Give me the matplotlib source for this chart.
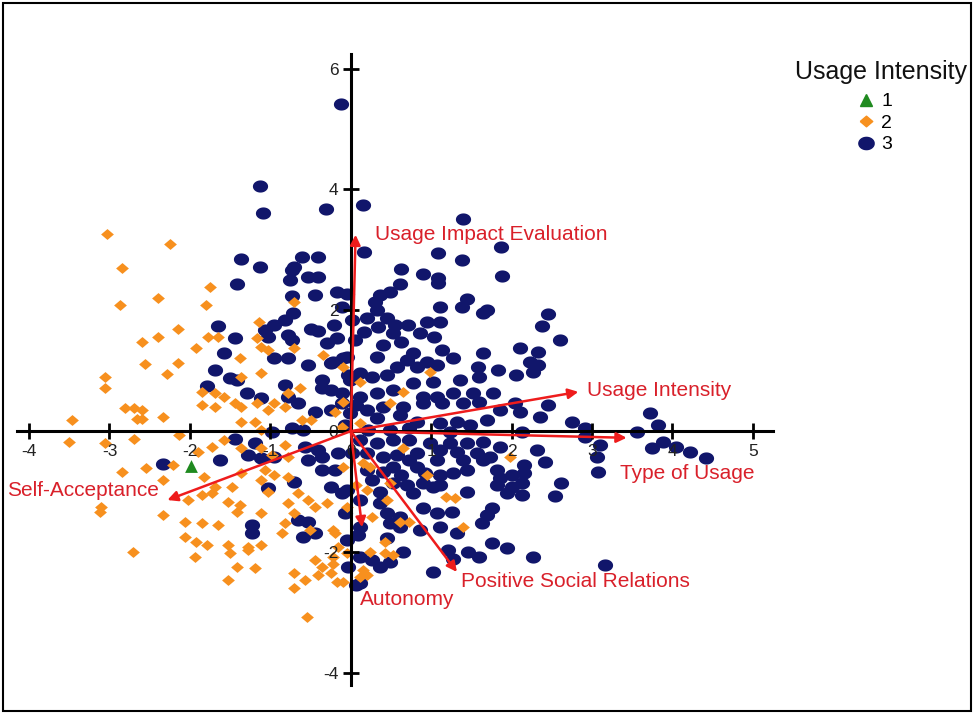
import numpy as np
import matplotlib
matplotlib.use("Agg")
import matplotlib.pyplot as plt
from matplotlib.lines import Line2D
from matplotlib.patches import Rectangle

plt.rcParams['font.family'] = ['Liberation Sans', 'DejaVu Sans']
plt.rcParams['axes.unicode_minus'] = False

# ---------------- data ----------------
group1_points = [(-1.99, -0.58)]

group2_points = [
    (-3.03,3.26),(-2.25,3.10),(-2.84,2.70),(-1.75,2.38),(-2.40,2.20),(-2.87,2.09),(-1.80,2.09),(-0.71,2.14),(-1.14,1.80),(-2.15,1.69),
    (-2.40,1.56),(-2.59,1.47),(-1.92,1.37),(-1.78,1.56),(-1.65,1.56),(-1.16,1.54),(-1.11,1.39),(-1.03,1.34),(-0.70,1.37),(-0.35,1.26),
    (-1.38,1.21),(-2.15,1.13),(-2.56,1.11),
    (-2.28,0.94),(-3.06,0.89),(-3.06,0.71),(-1.11,0.96),(-1.36,0.89),(-1.85,0.65),(-1.69,0.63),(-1.57,0.56),(-1.85,0.43),(-1.69,0.40),
    (-1.44,0.46),(-1.36,0.40),(-2.81,0.38),(-2.69,0.38),(-2.60,0.35),(-2.66,0.20),(-2.59,0.20),(-2.34,0.23),(-3.47,0.18),(-1.16,0.46),
    (-1.03,0.35),(-0.95,0.46),(-0.82,0.40),(-0.78,0.63),(-0.63,0.71),(-1.19,0.15),(-1.36,0.15),(-1.11,0.02),(-0.61,0.18),(-0.49,0.18),
    (-0.20,0.31),(-0.11,0.07),(-3.50,-0.18),(-3.06,-0.20),(-2.69,-0.13),(-2.13,-0.07),(-1.73,-0.26),(-1.57,-0.15),(-1.36,-0.28),(-1.11,-0.28),
    (-0.82,-0.23),(-0.98,-0.40),(-0.78,-0.43),(-1.90,-0.35),(-2.21,-0.56),(-2.54,-0.61),(-2.84,-0.68),(-2.34,-0.81),(-1.82,-0.76),(-1.69,-0.93),
    (-1.73,-1.03),(-2.03,-1.14),(-1.85,-1.06),(-1.48,-0.93),(-1.36,-0.70),(-1.07,-0.65),(-0.95,-0.73),(-1.11,-0.81),(-1.03,-1.01),(-0.78,-0.76),
    (-0.66,-1.03),(-0.53,-1.14),(-0.45,-1.26),(-0.29,-1.19),(-0.78,-1.19),(-0.70,-1.36),(-0.82,-1.52),(-3.10,-1.26),(-3.12,-1.34),(-2.34,-1.39),
    (-2.06,-1.51),(-1.85,-1.52),(-1.65,-1.56),(-1.41,-1.34),(-1.11,-1.36),(-1.53,-1.18),(-1.38,-1.23),(-2.06,-1.75),(-1.92,-1.84),(-1.79,-1.89),
    (-1.53,-1.89),(-1.28,-1.92),(-1.11,-1.89),(-0.86,-1.69),(-0.20,-1.69),(-0.16,-1.92),(-2.71,-2.00),(-1.94,-2.09),(-1.50,-2.02),(-1.28,-1.97),
    (-0.45,-2.14),(-1.41,-2.25),(-1.19,-2.27),(-0.36,-2.25),(-0.70,-2.35),(-0.57,-2.47),(-1.53,-2.47),(-0.41,-2.38),(-0.17,-2.50),(-0.70,-2.60),
    (-0.24,-2.35),
    (0.15,-2.30),(0.20,-2.38),(0.11,-2.42),(-0.22,-2.19),(-0.22,-2.09),(-0.51,-1.64),(-0.22,-1.64),(1.39,-1.59),(0.42,-2.02),(-0.55,-3.08),
    (-0.10,1.06),(0.11,0.81),(0.98,0.98),(0.65,0.65),(0.49,0.46),(-0.10,0.48),(0.11,0.13),(0.65,-0.28),(1.98,-0.43),(0.15,-0.53),
    (0.24,-0.60),(-0.10,-0.60),(0.95,-0.73),(0.49,-0.86),(0.07,-0.89),(0.20,-0.98),(1.19,-1.09),(1.29,-1.11),(0.45,-1.14),(-0.05,-1.26),
    (0.27,-1.42),(0.73,-1.51),(0.61,-1.51),(0.42,-1.84),(0.24,-2.00),(-0.05,-2.02),(0.52,-2.05),(-0.10,-2.50),
]

group3_points = [
    (-0.12,5.41),(-1.13,4.06),(-1.09,3.61),(-0.31,3.68),(0.15,3.74),(1.39,3.51),(0.17,2.96),(1.09,2.95),(1.38,2.83),(1.87,3.05),
    (0.63,2.68),(0.90,2.60),(1.08,2.53),(1.08,2.45),(1.88,2.57),(0.61,2.43),(0.49,2.30),(0.36,2.25),(-0.05,2.27),(0.30,2.14),
    (1.44,2.19),(1.38,2.05),(1.11,2.05),(1.69,2.00),(1.64,1.95),(2.45,1.94),(2.38,1.74),(2.60,1.51),(0.32,2.00),(0.20,1.87),
    (0.45,1.87),(0.17,1.64),(0.34,1.72),(0.55,1.75),(0.71,1.75),(0.95,1.80),(1.11,1.80),(0.86,1.62),(1.04,1.56),(0.52,1.62),
    (0.63,1.47),(0.40,1.42),(0.77,1.29),(1.14,1.34),(1.64,1.29),(2.10,1.37),(2.33,1.31),(2.23,1.14),(0.32,1.23),(0.70,1.18),
    (1.27,1.21),(0.95,1.14),(-0.05,1.23),
    (-1.36,2.85),(-1.13,2.72),(-1.41,2.43),(-0.61,2.88),(-0.41,2.88),(-0.70,2.72),(-0.73,2.67),(-0.76,2.50),(-0.53,2.55),(-0.41,2.55),
    (-0.73,2.24),(-0.44,2.25),(-0.17,2.30),(-0.11,2.05),(-0.72,1.95),(-0.82,1.84),(-0.95,1.75),(-1.07,1.67),(-1.03,1.56),(-0.78,1.59),
    (-0.73,1.51),(-0.49,1.69),(-0.41,1.66),(-0.21,1.75),(-0.17,1.54),(-0.30,1.46),(-1.65,1.74),(-1.44,1.54),(-1.58,1.29),(-0.95,1.21),
    (-0.78,1.21),(-0.53,1.09),(-0.22,1.14),(-0.10,1.21),(-1.69,1.01),
    (-1.79,0.75),(-1.50,0.88),(-1.41,0.84),(-1.29,0.63),(-1.11,0.55),(-0.82,0.76),(-0.78,0.56),(-0.66,0.46),(-0.24,1.13),(-0.36,0.84),
    (-0.36,0.71),(-0.24,0.68),(-0.11,0.63),(-0.45,0.31),(-0.24,0.35),(-0.11,0.46),(-0.73,0.05),(-0.60,0.02),(-0.98,-0.02),(-1.44,-0.13),
    (-1.19,-0.20),(-1.28,-0.40),(-1.11,-0.45),(-0.95,-0.43),(-1.63,-0.48),(-2.34,-0.55),(-0.57,-0.26),(-0.41,-0.31),(-0.36,-0.43),(-0.16,-0.36),
    (-0.53,-0.48),(-0.36,-0.65),(-0.20,-0.65),(-0.70,-0.84),(-1.03,-0.94),(-0.24,-0.93),(-0.11,-1.03),(-0.07,-1.36),(-0.66,-1.47),(-0.53,-1.51),
    (-1.23,-1.56),(-1.23,-1.69),(-0.60,-1.75),(-0.45,-1.69),(-0.04,-2.25),
    (0.11,0.96),(0.27,0.89),(0.45,0.93),(0.58,1.06),(0.82,1.06),(1.07,1.09),(1.58,1.06),(1.83,1.01),(2.06,0.93),(2.26,0.98),
    (2.33,1.09),(1.60,0.89),(1.36,0.84),(1.02,0.81),(0.77,0.79),(0.52,0.68),(0.32,0.63),(0.11,0.56),(-0.01,0.84),(0.90,0.56),
    (1.07,0.56),(1.27,0.63),(1.52,0.63),(1.77,0.63),(1.60,0.48),(1.39,0.46),(1.14,0.46),(0.90,0.46),(0.65,0.40),(0.40,0.40),
    (0.20,0.35),(-0.01,0.30),(0.32,0.22),(0.61,0.26),(0.82,0.15),(1.11,0.13),(1.32,0.15),(1.69,0.18),(1.85,0.35),(2.04,0.46),
    (2.10,0.31),(2.35,0.23),(2.45,0.43),(2.75,0.15),(2.91,0.05),(2.13,-0.02),(2.91,-0.10),(3.10,-0.23),(3.06,-0.43),(3.07,-0.68),
    (2.31,-0.31),(2.41,-0.51),(3.72,0.30),(3.82,0.10),(3.56,-0.02),(3.88,-0.18),(3.74,-0.28),(4.05,-0.26),(4.22,-0.35),(4.42,-0.45),
    (2.62,-0.86),(2.54,-1.08),(0.11,-0.15),(0.32,-0.20),(0.52,-0.15),(0.73,-0.15),(0.98,-0.20),(1.23,-0.20),(1.44,-0.20),(1.64,-0.18),
    (1.85,-0.26),(1.11,-0.31),(1.32,-0.35),(1.57,-0.36),(1.73,-0.43),(0.82,-0.36),(0.57,-0.40),(0.40,-0.43),(0.20,-0.36),(0.02,-0.36),
    (0.73,-0.48),(1.07,-0.48),(1.39,-0.48),(1.64,-0.48),(0.82,-0.60),(0.52,-0.60),(0.40,-0.68),(0.20,-0.65),(0.63,-0.73),(0.92,-0.70),
    (1.11,-0.73),(1.27,-0.70),(1.44,-0.65),(1.82,-0.65),(1.85,-0.78),(2.01,-0.73),(2.16,-0.56),(2.16,-0.70),(2.13,-0.86),(2.00,-0.93),
    (1.82,-0.89),(1.94,-1.03),(2.13,-1.06),(1.44,-1.01),(1.11,-0.89),(0.90,-0.86),(0.70,-0.89),(0.52,-0.86),(0.27,-0.81),(0.36,-1.01),
    (0.77,-1.03),(1.02,-0.93),(-0.05,-0.98),(0.11,-1.14),(0.36,-1.19),(0.45,-1.36),(0.61,-1.42),(0.90,-1.27),(1.07,-1.36),(1.26,-1.34),
    (1.75,-1.27),(1.69,-1.39),(1.63,-1.52),(0.11,-1.59),(0.49,-1.52),(0.61,-1.59),(0.86,-1.64),(1.11,-1.59),(1.32,-1.69),(0.45,-1.77),
    (-0.05,-1.80),(0.09,-1.72),(0.65,-2.00),(1.21,-1.97),(1.46,-2.00),(1.60,-2.09),(1.75,-1.85),(1.94,-1.94),(2.26,-2.09),(1.27,-2.12),
    (0.27,-2.14),(0.49,-2.17),(0.11,-2.09),(1.02,-2.33),(0.11,-2.52),(3.16,-2.22),(0.36,-2.25),(0.07,-2.55),
    (0.01,1.84),(0.05,1.51),(-0.04,0.93),(0.06,0.43),(-0.07,0.10),(0.21,0.02),(0.49,0.02),(0.73,0.05),(1.23,-0.02),(1.48,0.10),
]

vector_names = ["Usage Impact Evaluation", "Usage Intensity", "Type of Usage",
                "Self-Acceptance", "Positive Social Relations", "Autonomy"]
vector_x = [0.06, 2.83, 3.43, -2.28, 1.32, 0.14]
vector_y = [3.25, 0.65, -0.11, -1.14, -2.33, -1.59]

x_ticks = [-4, -3, -2, -1, 0, 1, 2, 3, 4, 5]
y_ticks = [-4, -2, 0, 2, 4, 6]
legend_labels = ["1", "2", "3"]
legend_title = "Usage Intensity"

# ---------------- styling / layout ----------------
label_pos = [(0.30, 3.25), (2.94, 0.68), (3.35, -0.70),
             (-4.27, -0.98), (1.37, -2.48), (0.11, -2.78)]

c_green = "#1f8a1f"
c_orange = "#f7901e"
c_navy = "#11166b"
c_red = "#ee1c1c"
c_text_red = "#d9202a"

t = np.linspace(0, 2 * np.pi, 40)
ellipse_marker = list(zip(1.25 * np.cos(t), np.sin(t)))
diamond_marker = [(-1, 0), (0, 0.85), (1, 0), (0, -0.85), (-1, 0)]

fig = plt.figure(figsize=(9.74, 7.13), dpi=100)
ax = fig.add_axes([17 / 974, 28 / 713, 756 / 974, 631 / 713])
ax.set_xlim(-4.15, 5.25)
ax.set_ylim(-4.2, 6.24)

g3 = np.array(group3_points)
g2 = np.array(group2_points)
g1 = np.array(group1_points)
ax.scatter(g3[:, 0], g3[:, 1], s=120, marker=ellipse_marker, color=c_navy,
           linewidths=0, zorder=1)
ax.scatter(g2[:, 0], g2[:, 1], s=85, marker=diamond_marker, color=c_orange,
           linewidths=0, zorder=1.2)
ax.scatter(g1[:, 0], g1[:, 1], s=85, marker="^", color=c_green,
           linewidths=0, zorder=1.4)

# axes through the origin
for side in ["top", "right"]:
    ax.spines[side].set_visible(False)
for side in ["left", "bottom"]:
    ax.spines[side].set_position(("data", 0))
    ax.spines[side].set_linewidth(2.2)
    ax.spines[side].set_zorder(3)
ax.set_xticks(x_ticks)
ax.set_yticks(y_ticks)
ax.tick_params(direction="inout", length=12, width=2, labelsize=12.5,
               labelcolor="#222222", pad=3)

# vectors
for name, vx, vy, (lx, ly) in zip(vector_names, vector_x, vector_y, label_pos):
    ax.annotate("", xy=(vx, vy), xytext=(0, 0),
                arrowprops=dict(arrowstyle="-|>", color=c_red, lw=1.8,
                                mutation_scale=15, shrinkA=0, shrinkB=0),
                zorder=4)
    ax.text(lx, ly, name, color=c_text_red, fontsize=15, ha="left",
            va="center", zorder=5, clip_on=False)

# legend
handles = [
    Line2D([], [], linestyle="none", marker="^", color=c_green, markersize=9),
    Line2D([], [], linestyle="none", marker=diamond_marker, color=c_orange, markersize=9),
    Line2D([], [], linestyle="none", marker=ellipse_marker, color=c_navy, markersize=11),
]
fig.text(881 / 974, 1 - 72 / 713, legend_title, fontsize=18, ha="center",
         va="center", color="#111111")
leg = fig.legend(handles, legend_labels, loc="upper left",
                 bbox_to_anchor=(850 / 974, 1 - 85 / 713), frameon=False,
                 fontsize=14, handlelength=0.8,
                 handletextpad=0.4, labelspacing=0.2, borderaxespad=0)

# figure border
fig.patches.append(Rectangle((3 / 974, 2 / 713), 968 / 974, 708 / 713,
                             transform=fig.transFigure, fill=False,
                             edgecolor="black", linewidth=1.5))

fig.savefig("out.png", dpi=100)
